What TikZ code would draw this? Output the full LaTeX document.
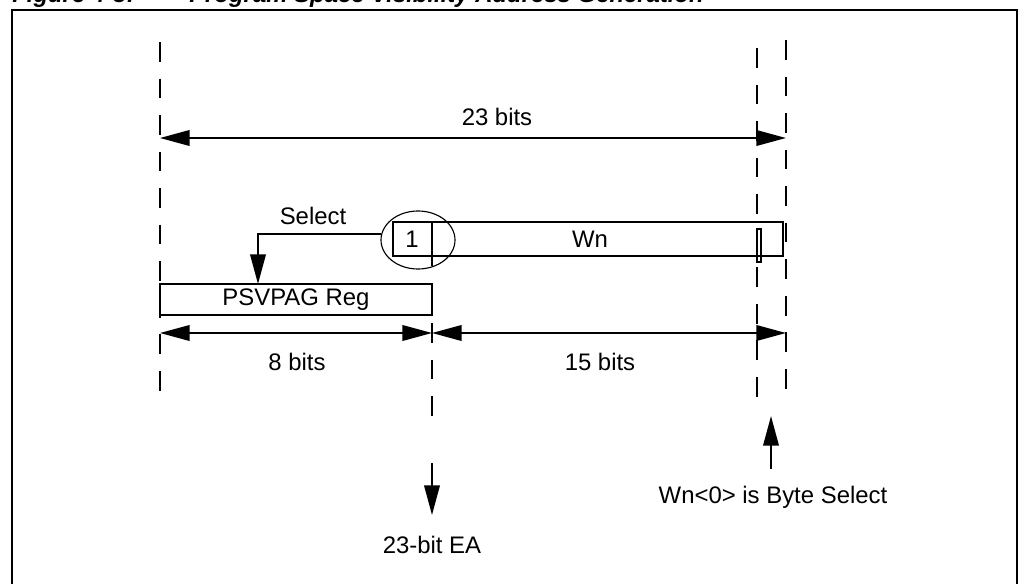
\documentclass[tikz,border=0pt]{standalone}
\usepackage{fontspec}
\setmainfont{Liberation Sans}
\usetikzlibrary{arrows.meta, positioning, calc, shapes.geometric}
\tikzset{>={Triangle[length=21pt,width=11pt]}}
\tikzset{
  guide/.style={line width=1.4pt, dash pattern=on 14pt off 12pt},
  regbox/.style={draw, line width=1.4pt, inner sep=0pt},
  dim/.style={<->, line width=1.4pt},
  lbl/.style={font=\fontsize{17}{20}\selectfont, inner sep=1pt}
}

\begin{document}
\begin{tikzpicture}[x=0.025cm, y=-0.025cm]
    \useasboundingbox (0,0) rectangle (1019,584);
    % caption (cut off at the top) and frame
    \node[anchor=base west, font=\fontsize{17}{20}\selectfont\bfseries\itshape, inner sep=0pt]
      (capnum) at (12,3) {Figure 4-3:};
    \node[anchor=base west, font=\fontsize{17}{20}\selectfont\bfseries\itshape, inner sep=0pt]
      (captxt) at (189,3) {Program Space Visibility Address Generation};
    \draw[line width=2pt] (12,10) rectangle (1017,640);
    % guide lines
    \coordinate (gl0) at (160,42);   \coordinate (gl1) at (160,404);
    \coordinate (gm0) at (432,323);  \coordinate (gm1) at (432,420);
    \coordinate (ga0) at (757,48);   \coordinate (ga1) at (757,412);
    \coordinate (gb0) at (786,40);   \coordinate (gb1) at (786,402);
    \draw[guide] (gl0) -- (gl1);
    \draw[guide] (gm0) -- (gm1);
    \draw[guide] (ga0) -- (ga1);
    \draw[guide] (gb0) -- (gb1);
    % 23 bits
    \coordinate (t23l) at (160,138);
    \coordinate (t23r) at (786,138);
    \draw[dim] (t23l) -- (t23r);
    \node[lbl] (lab23) at (497,117) {23 bits};
    % Wn register
    \node[regbox, minimum width=9.75cm, minimum height=0.85cm] (wn) at (588,239) {};
    \coordinate (div0) at (432,222);
    \coordinate (div1) at (432,266);
    \draw[line width=1.4pt] (div0) -- (div1);
    \node[lbl] (one) at (412,239) {1};
    \node[lbl] (wnlab) at (590,239) {Wn};
    \draw[line width=0.8pt] (757,229) rectangle (761,262);
    \node[ellipse, draw, line width=0.8pt, minimum width=1.85cm, minimum height=1.45cm] (sel) at (418,240) {};
    % PSVPAG register
    \node[regbox, minimum width=6.8cm, minimum height=0.775cm] (psv) at (296,299.5) {};
    \node[lbl] (psvlab) at (296,299.5) {PSVPAG Reg};
    \coordinate (seltip) at (258,284);
    \draw[->, line width=1.4pt] (sel.171) -| (seltip);
    \node[lbl] (sellab) at (313,216) {Select};
    % 8 bits and 15 bits
    \coordinate (t8l) at (160,333);
    \coordinate (t8r) at (432,333);
    \coordinate (t15r) at (786,333);
    \draw[dim] (t8l) -- (t8r);
    \draw[dim] (t8r) -- (t15r);
    \node[lbl] (lab8) at (297,362) {8 bits};
    \node[lbl] (lab15) at (600,362) {15 bits};
    % effective address
    \coordinate (ea0) at (432,463);
    \coordinate (ea1) at (432,515);
    \draw[->, line width=1.4pt] (ea0) -- (ea1);
    \node[lbl] (ealab) at (432,545) {23-bit EA};
    % byte select
    \coordinate (bs0) at (771,469);
    \coordinate (bs1) at (771,416);
    \draw[->, line width=1.4pt] (bs0) -- (bs1);
    \node[lbl] (bslab) at (773,497) {Wn<0> is Byte Select};
\end{tikzpicture}
\end{document}
